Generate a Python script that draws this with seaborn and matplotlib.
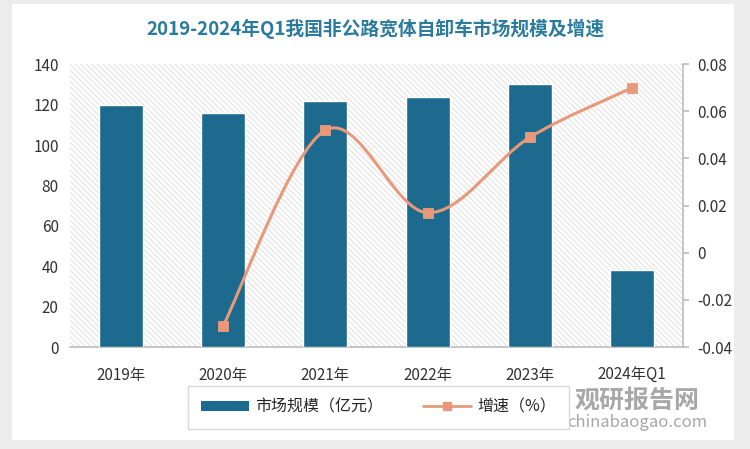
import numpy as np
import pandas as pd
import seaborn as sns
import matplotlib.pyplot as plt
from matplotlib.patches import Rectangle, PathPatch
from matplotlib.path import Path
from matplotlib.lines import Line2D

years = ["2019年", "2020年", "2021年", "2022年", "2023年", "2024年Q1"]
market_size = [120, 116, 122, 124, 130, 38]
growth_years = ["2020年", "2021年", "2022年", "2023年", "2024年Q1"]
growth = [-0.031, 0.052, 0.017, 0.049, 0.070]

bar_color = "#1c6b8e"
line_color = "#e9997a"
title_color = "#2b7b9c"

sns.set_theme(style="white")
plt.rcParams["font.family"] = ["Noto Sans CJK SC", "DejaVu Sans"]
plt.rcParams["hatch.color"] = "#dcdcdc"
plt.rcParams["hatch.linewidth"] = 0.6

fig = plt.figure(figsize=(7.5, 4.49), dpi=100, facecolor="#ececec")
# white card behind everything
card = fig.add_axes([0.016, 0.02, 0.963, 0.97], zorder=-10)
card.set_facecolor("white")
card.set_xticks([])
card.set_yticks([])
for s in card.spines.values():
    s.set_visible(False)

ax = fig.add_axes([0.093, 0.227, 0.818, 0.630])
ax.set_facecolor("none")
ax.add_patch(Rectangle((0, 0), 1, 1, transform=ax.transAxes, facecolor="white",
                       edgecolor="#dcdcdc", hatch="\\\\\\\\\\\\", linewidth=0, zorder=0))

df = pd.DataFrame({"year": years, "size": market_size})
sns.barplot(data=df, x="year", y="size", color=bar_color, width=0.43,
            edgecolor="white", linewidth=1.0, saturation=1, ax=ax, zorder=3)
ax.set_xlim(-0.5, len(years) - 0.5)
ax.set_ylim(0, 140)
ax.set_yticks(range(0, 141, 20))
ax.set_xlabel("")
ax.set_ylabel("")
for s in ["top", "left", "right"]:
    ax.spines[s].set_visible(False)
ax.spines["bottom"].set_color("#bfbfbf")
ax.tick_params(axis="both", length=0, labelsize=11, colors="#333333", pad=8)
ax.tick_params(axis="x", pad=14)

ax2 = ax.twinx()
ax2.set_ylim(-0.04, 0.08)
ax2.set_yticks([-0.04, -0.02, 0, 0.02, 0.04, 0.06, 0.08])
ax2.set_yticklabels(["-0.04", "-0.02", "0", "0.02", "0.04", "0.06", "0.08"])
for s in ["top", "left", "bottom"]:
    ax2.spines[s].set_visible(False)
ax2.spines["right"].set_color("#bfbfbf")
ax2.tick_params(axis="y", length=4, color="#bfbfbf", labelsize=11, labelcolor="#333333", pad=6)
ax2.grid(False)

# smooth curve (Catmull-Rom as cubic Bezier segments) through the data points
gx = np.array([years.index(g) for g in growth_years], dtype=float)
gy = np.array(growth)
pts = np.column_stack([gx, gy])
verts = [pts[0]]
codes = [Path.MOVETO]
for i in range(len(pts) - 1):
    p0 = pts[i - 1] if i > 0 else pts[i]
    p1, p2 = pts[i], pts[i + 1]
    p3 = pts[i + 2] if i + 2 < len(pts) else pts[i + 1]
    c1 = p1 + (p2 - p0) / 6
    c2 = p2 - (p3 - p1) / 6
    verts += [c1, c2, p2]
    codes += [Path.CURVE4] * 3
ax2.add_patch(PathPatch(Path(verts, codes), facecolor="none", edgecolor=line_color,
                        linewidth=2.2, zorder=4))
sns.scatterplot(x=gx, y=gy, marker="s", s=60, color=line_color, edgecolor=line_color,
                ax=ax2, zorder=5)

fig.text(0.5, 0.935, "2019-2024年Q1我国非公路宽体自卸车市场规模及增速", ha="center",
         va="center", fontsize=13.5, fontweight="bold", color=title_color)

handles = [Rectangle((0, 0), 1, 1, facecolor=bar_color, edgecolor="none"),
           Line2D([0], [0], color=line_color, lw=2, marker="s", markersize=6)]
leg = fig.legend(handles, ["市场规模（亿元）", "增速（%）"], loc="center",
                 bbox_to_anchor=(0.505, 0.093), ncol=2, frameon=True, fontsize=11.5,
                 handlelength=3, handleheight=0.6, handletextpad=0.4,
                 columnspacing=2.5, borderpad=0.5)
leg.get_frame().set_edgecolor("#d0d0d0")
leg.get_frame().set_boxstyle("square")

# watermark
fig.text(0.85, 0.108, "观研报告网", ha="center", va="center", fontsize=18,
         fontweight="bold", color="#8a8a8a", alpha=0.75)
fig.text(0.85, 0.058, "chinabaogao.com", ha="center", va="center", fontsize=12,
         color="#8a8a8a", alpha=0.75)

fig.savefig("out.png", dpi=100, facecolor=fig.get_facecolor())
